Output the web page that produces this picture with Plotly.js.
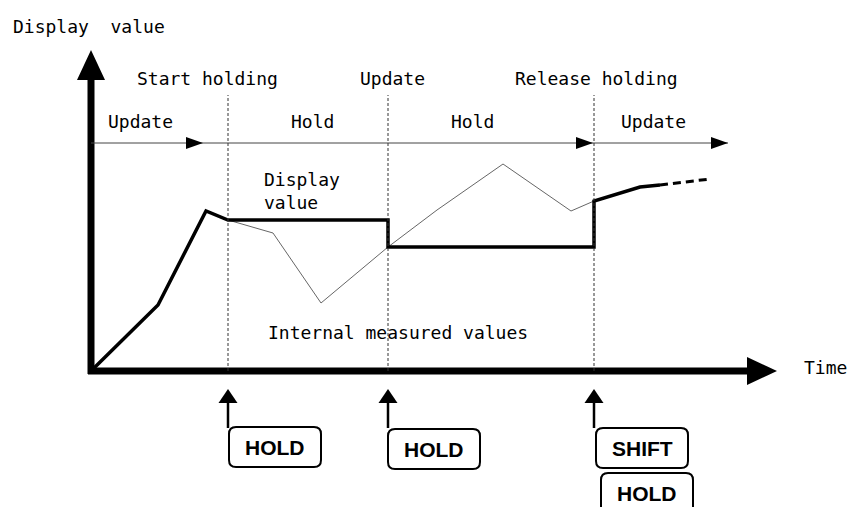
<!DOCTYPE html>
<html>
<head>
<meta charset="utf-8">
<script src="https://cdn.plot.ly/plotly-3.0.1.min.js"></script>
<style>
  html, body { margin: 0; padding: 0; background: #fff; }
  #chart { width: 860px; height: 507px; }
</style>
</head>
<body>
<div id="chart"></div>
<script>
// display value (thick line) and the internal measured values (thin line)
var displayT  = [0, 67, 115, 137, 297, 297, 503, 503, 549, 569];
var displayV  = [0, 66, 160, 151, 151, 124, 124, 170, 184, 186];
var trendT    = [569, 619];
var trendV    = [186, 192];
var internalT = [137, 182, 230, 297, 346, 412, 480, 503];
var internalV = [151, 138, 68, 124, 161, 207, 160, 170];

// key presses
var eventT      = [137, 297, 503];
var eventLabels = ['Start holding', 'Update', 'Release holding'];
var keyLabels   = [['HOLD'], ['HOLD'], ['SHIFT', 'HOLD']];

// phases shown above the curve
var phaseLabels = ['Update', 'Hold', 'Hold', 'Update'];
var phaseEnd    = [112, 297, 502, 637];

var TEXT_FONT = { family: 'DejaVu Sans Mono, monospace', size: 18, color: '#000' };
var KEY_FONT  = { family: 'Liberation Sans, Arial, sans-serif', size: 21, color: '#000' };

function roundRect(x0, y0, x1, y1, r) {
  return 'M' + (x0 + r) + ',' + y1 + ' L' + (x1 - r) + ',' + y1 +
    ' Q' + x1 + ',' + y1 + ' ' + x1 + ',' + (y1 - r) +
    ' L' + x1 + ',' + (y0 + r) + ' Q' + x1 + ',' + y0 + ' ' + (x1 - r) + ',' + y0 +
    ' L' + (x0 + r) + ',' + y0 + ' Q' + x0 + ',' + y0 + ' ' + x0 + ',' + (y0 + r) +
    ' L' + x0 + ',' + (y1 - r) + ' Q' + x0 + ',' + y1 + ' ' + (x0 + r) + ',' + y1 + ' Z';
}

function tri(p) {
  return 'M' + p[0][0] + ',' + p[0][1] + ' L' + p[1][0] + ',' + p[1][1] + ' L' + p[2][0] + ',' + p[2][1] + ' Z';
}

function drawChart() {
  var traces = [
    {
      x: internalT, y: internalV, type: 'scatter', mode: 'lines',
      line: { color: '#666', width: 1 }
    },
    {
      x: displayT, y: displayV, type: 'scatter', mode: 'lines',
      line: { color: '#000', width: 3.5 }
    },
    {
      x: trendT, y: trendV, type: 'scatter', mode: 'lines',
      line: { color: '#000', width: 3, dash: '8px,5px' }
    }
  ];

  var shapes = [];
  var annotations = [];
  var solid = { color: '#000', width: 0 };

  // axes
  shapes.push({ type: 'line', x0: 0, y0: -3, x1: 0, y1: 292, line: { color: '#000', width: 7 } });
  shapes.push({ type: 'path', path: tri([[-14, 291], [14, 291], [0, 321]]), fillcolor: '#000', line: solid });
  shapes.push({ type: 'line', x0: -3, y0: 0, x1: 657, y1: 0, line: { color: '#000', width: 7 } });
  shapes.push({ type: 'path', path: tri([[656, -14], [656, 14], [686, 0]]), fillcolor: '#000', line: solid });

  // phase arrow line
  shapes.push({ type: 'line', x0: 0, y0: 228, x1: 637, y1: 228, line: { color: '#444', width: 1 } });
  phaseEnd.filter(function(t, i) { return i !== 1; }).forEach(function(t) {
    shapes.push({ type: 'path', path: tri([[t - 17, 222], [t - 17, 234], [t, 228]]), fillcolor: '#000', line: solid });
  });
  var phaseX = [49, 221, 381, 562];
  phaseLabels.forEach(function(lab, i) {
    annotations.push({ x: phaseX[i], y: 250, text: lab, showarrow: false, font: TEXT_FONT });
  });

  // events: dotted guides, labels, key arrows and keys
  var labelX    = [116, 301, 505];
  var keyOffset = [1, 0, 2];
  var keyTop    = [-56, -58, -57];
  eventT.forEach(function(t, i) {
    shapes.push({ type: 'line', x0: t, y0: 0, x1: t, y1: 276, line: { color: '#333', width: 1, dash: '3px,2px' } });
    annotations.push({ x: labelX[i], y: 293, text: eventLabels[i], showarrow: false, font: TEXT_FONT });

    shapes.push({ type: 'line', x0: t, y0: -57, x1: t, y1: -30, line: { color: '#000', width: 2.5 } });
    shapes.push({ type: 'path', path: tri([[t - 9.5, -32], [t + 9.5, -32], [t, -18]]), fillcolor: '#000', line: solid });

    keyLabels[i].forEach(function(k, j) {
      var x0 = t + keyOffset[i] + j * 5;
      var top = keyTop[i] - j * 45;
      shapes.push({ type: 'path', path: roundRect(x0, top - 40, x0 + 92, top, 7),
        line: { color: '#000', width: 2 }, fillcolor: 'rgba(0,0,0,0)' });
      annotations.push({ x: x0 + 46, y: top - 20, text: '<b>' + k + '</b>', showarrow: false, font: KEY_FONT });
    });
  });

  // other text
  annotations.push({ x: -2, y: 345, text: 'Display\u00a0\u00a0value', showarrow: false, font: TEXT_FONT });
  annotations.push({ x: 171, y: 180, text: 'Display<br>value', align: 'left', xanchor: 'left',
    showarrow: false, font: TEXT_FONT });
  annotations.push({ x: 307, y: 39, text: 'Internal measured values', showarrow: false, font: TEXT_FONT });
  annotations.push({ x: 734, y: 4, text: 'Time', showarrow: false, font: TEXT_FONT });

  var hidden = { showgrid: false, zeroline: false, showticklabels: false, showline: false, ticks: '' };

  var layout = {
    width: 860, height: 507,
    margin: { t: 0, r: 0, b: 0, l: 0 },
    paper_bgcolor: '#fff', plot_bgcolor: '#fff',
    showlegend: false,
    xaxis: Object.assign({ range: [-91, 769] }, hidden),
    yaxis: Object.assign({ range: [-136, 371] }, hidden),
    shapes: shapes,
    annotations: annotations
  };

  Plotly.newPlot('chart', traces, layout, { staticPlot: true, displayModeBar: false });
}

drawChart();
</script>
</body>
</html>
